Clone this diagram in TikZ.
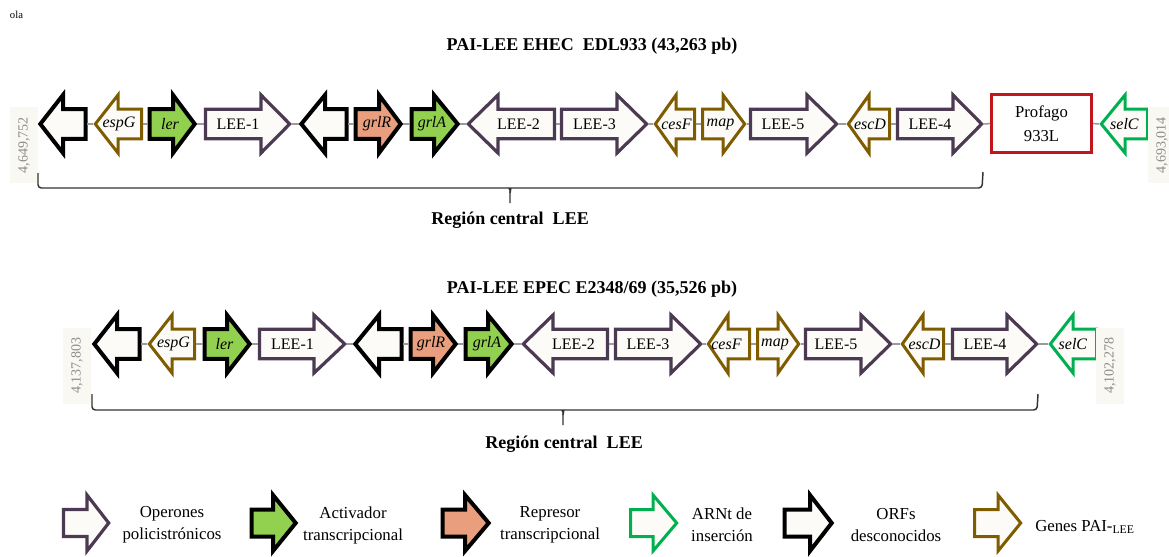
\documentclass[tikz,border=0pt]{standalone}
\usepackage{fontspec}
\setmainfont{Liberation Serif}

\definecolor{cream}{HTML}{FCFBF7}
\definecolor{actgreen}{HTML}{92D050}
\definecolor{repsalmon}{HTML}{E99F7E}
\definecolor{operpurple}{HTML}{4B3A51}
\definecolor{paibrown}{HTML}{7F5C00}
\definecolor{trnagreen}{HTML}{00B050}
\definecolor{phagered}{HTML}{C0161C}
\definecolor{linkgray}{HTML}{9A9A9A}
\definecolor{coordgray}{HTML}{8C8C8C}
\definecolor{coordbg}{HTML}{F9F8F3}
\definecolor{bracegray}{HTML}{333333}

\tikzset{
  genebase/.style={line join=miter, fill=cream},
  orf/.style={genebase, draw=black, line width=3pt},
  act/.style={genebase, draw=black, line width=3pt, fill=actgreen},
  rep/.style={genebase, draw=black, line width=3pt, fill=repsalmon},
  oper/.style={genebase, draw=operpurple, line width=2.4pt},
  pai/.style={genebase, draw=paibrown, line width=2.25pt},
  trna/.style={genebase, draw=trnagreen, line width=2.25pt},
  genebox/.style={inner sep=0pt, minimum height=51pt, draw=none},
  genetext/.style={inner sep=0pt, font=\fontsize{12}{14}\selectfont},
  genelink/.style={draw=linkgray, line width=1.2pt},
  phage/.style={draw=phagered, line width=2.25pt, fill=white, inner sep=0pt,
    minimum width=75pt, minimum height=43.5pt, align=center,
    font=\fontsize{12.5}{18}\selectfont},
  coordlabel/.style={fill=coordbg, text=coordgray, rotate=90, inner sep=0pt,
    minimum width=57pt, minimum height=21pt, font=\fontsize{10.5}{12}\selectfont},
  titletext/.style={inner sep=0pt, font=\fontsize{13.5}{16}\selectfont\bfseries},
  bracket/.style={draw=bracegray, line width=1.1pt, rounded corners=2.5pt},
  legendtext/.style={inner sep=0pt, align=center, font=\fontsize{12.6}{16.5}\selectfont},
}

% right-pointing gene: name, style, left x, tip x, head length, centre y, label shift, label
\newcommand{\generight}[8]{%
  \draw[#2] ({#3+1.5},{#6-\bh}) -- ({#4-#5},{#6-\bh}) -- ({#4-#5},{#6-\hh})
    -- ({#4-2.3},{#6}) -- ({#4-#5},{#6+\hh}) -- ({#4-#5},{#6+\bh})
    -- ({#3+1.5},{#6+\bh}) -- cycle;
  \node[genebox, minimum width={(#4-#3)*0.75pt}] (#1) at ({(#3+#4)/2},{#6}) {};
  \node[genetext] (#1-t) at ({(#3+#4)/2+#7},{#6}) {#8};
}
% left-pointing gene: name, style, tip x, right x, head length, centre y, label shift, label
\newcommand{\geneleft}[8]{%
  \draw[#2] ({#4-1.5},{#6-\bh}) -- ({#3+#5},{#6-\bh}) -- ({#3+#5},{#6-\hh})
    -- ({#3+2.3},{#6}) -- ({#3+#5},{#6+\hh}) -- ({#3+#5},{#6+\bh})
    -- ({#4-1.5},{#6+\bh}) -- cycle;
  \node[genebox, minimum width={(#4-#3)*0.75pt}] (#1) at ({(#3+#4)/2},{#6}) {};
  \node[genetext] (#1-t) at ({(#3+#4)/2+#7},{#6}) {#8};
}

\begin{document}
\begin{tikzpicture}[x={(0.75pt,0)}, y={(0,-0.75pt)}]
\useasboundingbox (0,0) rectangle (1169,556);

\node[inner sep=0pt, font=\fontsize{8}{9}\selectfont] (ola) at (16.5,15) {ola};

% head and body half-heights of the gene arrows
\def\hh{29}\def\bh{14.8}

% ---------- EHEC EDL933 ----------
\node[titletext] (title1) at (592,46) {PAI-LEE EHEC~~EDL933 (43,263 pb)};

\geneleft {e1}{orf}{38}{87}{25}{124}{0}{}
\geneleft {e2}{pai}{93}{143}{25}{124}{1}{\textit{espG}}
\generight{e3}{act}{148}{197}{24}{124}{-2.5}{\textit{ler}}
\generight{e4}{oper}{204}{292}{31}{124}{-10}{LEE-1}
\geneleft {e5}{orf}{299}{348}{26}{124}{0}{}
\generight{e6}{rep}{354}{403}{24}{124}{-1.5}{\textit{grlR}}
\generight{e7}{act}{410}{460}{26}{124}{-3}{\textit{grlA}}
\geneleft {e8}{oper}{466}{556}{32}{124}{7.5}{LEE-2}
\generight{e9}{oper}{560}{649}{32}{124}{-10}{LEE-3}
\geneleft {e10}{pai}{653}{696}{23}{124}{2}{\textit{cesF}}
\generight{e11}{pai}{701}{747}{24}{124}{-3.5}{\textit{map}}
\generight{e12}{oper}{749}{839}{32}{124}{-11}{LEE-5}
\geneleft {e13}{pai}{846}{891}{23}{124}{1.5}{\textit{escD}}
\generight{e14}{oper}{896}{984}{31}{124}{-10}{LEE-4}
\node[phage] (e15) at (1041.5,123.5) {Profago\\933L};
\geneleft {e16}{trna}{1099}{1149}{26}{124}{0.5}{\textit{selC}}

\foreach \i [evaluate=\i as \j using int(\i+1)] in {1,...,15}
  \draw[genelink] (e\i.east) -- (e\j.west);

\node[coordlabel] (c1l) at (24,145) {4,649,752};
\node[coordlabel] (c1r) at (1162,145) {4,693,014};

\draw[bracket] (38,173) -- (38,188) -- (506,188) to[out=0,in=90] (510,193) -- (510,203);
\draw[bracket] (983,172) -- (982,188) -- (514,188) to[out=180,in=90] (510,193);
\node[titletext] (region1) at (510,220) {Región central~~LEE};

% ---------- EPEC E2348/69 ----------
\node[titletext] (title2) at (592,289) {PAI-LEE EPEC E2348/69 (35,526 pb)};

\geneleft {p1}{orf}{92}{141}{25}{344}{0}{}
\geneleft {p2}{pai}{147}{196}{25}{344}{2}{\textit{espG}}
\generight{p3}{act}{203}{252}{25}{344}{-3}{\textit{ler}}
\generight{p4}{oper}{258}{347}{33}{344}{-10}{LEE-1}
\geneleft {p5}{orf}{353}{403}{26}{344}{0}{}
\generight{p6}{rep}{409}{458}{25}{344}{-2.5}{\textit{grlR}}
\generight{p7}{act}{464}{514}{26}{344}{-2}{\textit{grlA}}
\geneleft {p8}{oper}{521}{609}{32}{344}{8.5}{LEE-2}
\generight{p9}{oper}{614}{703}{32}{344}{-10.5}{LEE-3}
\geneleft {p10}{pai}{706}{751}{22}{344}{-2}{\textit{cesF}}
\generight{p11}{pai}{756}{801}{23}{344}{-3.5}{\textit{map}}
\generight{p12}{oper}{804}{893}{32}{344}{-12.5}{LEE-5}
\geneleft {p13}{pai}{900}{945}{23}{344}{2}{\textit{escD}}
\generight{p14}{oper}{951}{1039}{32}{344}{-10}{LEE-4}
\geneleft {p15}{trna}{1048}{1098}{25}{344}{0}{\textit{selC}}

\foreach \i [evaluate=\i as \j using int(\i+1)] in {1,...,14}
  \draw[genelink] (p\i.east) -- (p\j.west);

\node[coordlabel] (c2l) at (77,365.5) {4,137,803};
\node[coordlabel] (c2r) at (1110,365.5) {4,102,278};

\draw[bracket] (92,394) -- (92,410) -- (559,410) to[out=0,in=90] (563,415) -- (563,425);
\draw[bracket] (1038,394) -- (1037,410) -- (567,410) to[out=180,in=90] (563,415);
\node[titletext] (region2) at (564,444) {Región central~~LEE};

% ---------- legend ----------
\def\hh{28}\def\bh{13.5}
\generight{k1}{oper}{62}{111}{24}{523}{0}{}
\node[legendtext] (k1-l) at (172,525) {Operones\\policistrónicos};
\generight{k2}{act}{250}{298}{25}{523}{0}{}
\node[legendtext] (k2-l) at (353,525) {Activador\\transcripcional};
\generight{k3}{rep}{441}{491}{26}{523}{0}{}
\node[legendtext] (k3-l) at (550,525) {Represor\\transcripcional};
\generight{k4}{trna}{629}{679}{26}{523}{0}{}
\node[legendtext] (k4-l) at (722,525) {ARNt de\\inserción};
\generight{k5}{orf}{783}{834}{24}{523}{0}{}
\node[legendtext] (k5-l) at (896,525) {ORFs\\desconocidos};
\generight{k6}{pai}{973}{1023}{25}{523}{0}{}
\node[legendtext] (k6-l) at (1085,527) {Genes PAI-\textsubscript{LEE}};

\end{tikzpicture}
\end{document}
